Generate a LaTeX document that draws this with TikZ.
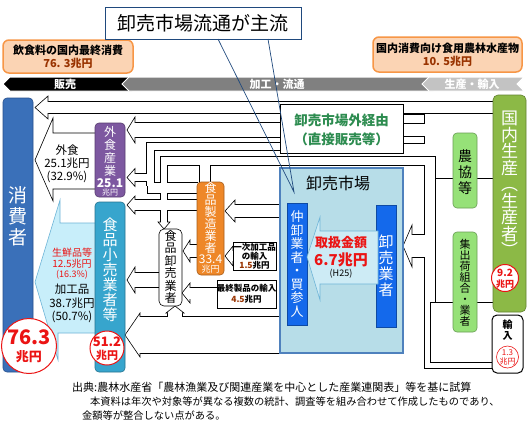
\documentclass[tikz,border=0pt]{standalone}
\usepackage{fontspec}
\setmainfont{Noto Sans CJK JP}
\usetikzlibrary{fit}
\definecolor{cCons}{RGB}{58,112,185}
\definecolor{cConsD}{RGB}{40,80,140}
\definecolor{cGai}{RGB}{125,88,160}
\definecolor{cKouri}{RGB}{55,165,205}
\definecolor{cSei}{RGB}{238,135,40}
\definecolor{cKoku}{RGB}{140,185,70}
\definecolor{cNou}{RGB}{150,225,120}
\definecolor{cMkt}{RGB}{183,221,232}
\definecolor{cMktB}{RGB}{79,129,189}
\definecolor{cBar}{RGB}{20,105,235}
\definecolor{cTori}{RGB}{205,235,245}
\definecolor{cKako}{RGB}{200,238,250}
\definecolor{cKakoB}{RGB}{110,180,215}
\definecolor{cOrF}{RGB}{251,212,180}
\definecolor{cOrB}{RGB}{247,150,70}
\definecolor{cGrn}{RGB}{45,140,80}
\definecolor{cRed}{RGB}{235,20,20}
\definecolor{cBrn}{RGB}{153,51,0}
\definecolor{cGray}{RGB}{128,128,128}
\definecolor{cLGray}{RGB}{195,195,195}
\definecolor{cCall}{RGB}{31,73,125}
\newcommand{\fz}[2]{\fontsize{#1}{#2}\selectfont}
\tikzset{
  outerpass/.style={pw/.style={line width=##1pt+1.2pt, draw=black}, ws/.style={}, we/.style={}},
  innerpass/.style={pw/.style={line width=##1pt, draw=white}, ws/.style={shorten <=0.6pt}, we/.style={shorten >=0.6pt}},
  headst/.style={fill=white, draw=black, line width=0.6pt},
  box/.style={inner sep=0pt, line width=0.6pt},
  vt/.style={align=center, inner sep=0pt},
  tx/.style={inner sep=0pt},
  infobox/.style={draw=cOrB, fill=cOrF, line width=1.5pt, rounded corners=6pt, align=center, inner sep=0pt, font=\bfseries\fz{11}{13}},
  bandtxt/.style={inner sep=0pt, font=\bfseries\fz{11}{11}, text=white},
  redcirc/.style={circle, draw=cRed, fill=white, inner sep=0pt},
}
\newcommand{\pipenet}{%
  \draw[pw=11] (46,107.5)--(494,107.5);
  \draw[pw=14] (133,130)--(281,130);
  \draw[pw=7] (281,146.5)--(150.5,146.5)--(150.5,186);
  \draw[pw=7] (151,177.5)--(134,177.5);
  \draw[pw=10,we] (198,188)--(147,188);
  \draw[pw=8,ws,we] (435.6,161)--(160,161);
  \draw[pw=6] (164,161)--(164,223);
  \draw[pw=10] (205,161)--(205,184);
  \draw[pw=10] (430,161)--(430,302.4);
  \draw[pw=5] (427.5,298)--(427.5,365.5)--(494,365.5);
  \draw[pw=51,we] (494,139)--(435.6,139);
  \draw[pw=109,we] (494,233)--(435.6,233);
  \draw[pw=59,we] (494,332.5)--(430.6,332.5);
  \draw[pw=22] (428,246)--(411,246);
  \draw[pw=8,we] (402,119)--(425,119);
  \draw[pw=6,we] (402,140)--(425,140);
  \draw[pw=36] (281,335)--(139,335);
  \draw[pw=14] (175,318)--(175,312);
  \draw[pw=11] (218,293)--(189,293);
  \draw[pw=10] (234,256)--(231,256);
  \draw[pw=12] (198,251)--(189,251);
  \draw[pw=12] (281,211)--(234,211);
  \draw[pw=14] (160,280)--(134,280);
  \draw[pw=10] (198,205)--(134,205);
}
\begin{document}
\begin{tikzpicture}[x=1pt,y=-1pt]
\useasboundingbox (0,0) rectangle (529,426);
\fill[white] (0,0) rectangle (529,426);

% stage bands
\filldraw[fill=black, draw=white, line width=1pt] (3,84)--(10,77)--(132,77)--(132,91)--(10,91)--cycle;
\filldraw[fill=cGray, draw=white, line width=1pt] (122,84)--(129,77)--(433,77)--(426,84)--(433,91)--(129,91)--cycle;
\filldraw[fill=cLGray, draw=white, line width=1pt] (422,84)--(429,77)--(524,77)--(517,84)--(524,91)--(429,91)--cycle;
\node[bandtxt] (bandA) at (65,84) {販売};
\node[bandtxt] (bandB) at (277,84) {加工・流通};
\node[bandtxt] (bandC) at (472,84) {生産・輸入};

% info boxes
\node[infobox, minimum width=130pt, minimum height=33pt] (ib1) at (68,56.5) {飲食料の国内最終消費\\{\color{cBrn}76. 3兆円}};
\node[infobox, minimum width=149pt, minimum height=35pt] (ib2) at (447.5,54.5) {国内消費向け食用農林水産物\\{\color{cBrn}10. 5兆円}};

% pipes, outer pass
\begin{scope}[outerpass]\pipenet\end{scope}
% arrow heads
\filldraw[headst] (48,96)--(35,107.5)--(48,119)--cycle;
\filldraw[headst] (135,117)--(127,130)--(135,143)--cycle;
\filldraw[headst] (412,225)--(403,246)--(412,267)--cycle;
\filldraw[headst] (135,168.5)--(127,177.5)--(135,186.5)--cycle;
\filldraw[headst] (140,313)--(125,335)--(140,357)--cycle;
\filldraw[headst] (166,313)--(175,306)--(184,313)--cycle;
\filldraw[headst] (190,283)--(182,293)--(190,303)--cycle;
\filldraw[headst] (233,246)--(225,256)--(233,266)--cycle;
\filldraw[headst] (190,240)--(183,251)--(190,262)--cycle;
\filldraw[headst] (235,200)--(225,211)--(235,222)--cycle;
\filldraw[headst] (135,267)--(127,280)--(135,293)--cycle;
\filldraw[headst] (135,196)--(127,205)--(135,214)--cycle;
\filldraw[headst] (158,222)--(164,229)--(170,222)--cycle;
% pipes, inner pass
\begin{scope}[innerpass]\pipenet\end{scope}

% big arrows into consumers
\filldraw[fill=white, draw=black, line width=0.6pt] (97,133)--(53,133)--(53,118)--(35,160)--(53,201)--(53,189)--(97,189)--cycle;
\filldraw[fill=cKako, draw=cKakoB, line width=0.6pt] (97,223)--(60,223)--(60,200)--(35,282)--(58,360)--(58,333)--(97,333)--cycle;

% consumers
\node[box, fit={(3,98)(33,372)}, fill=cCons, draw=cConsD, rounded corners=4pt] (cons) {};
\node[vt, text=white, font=\fz{19}{21}] (consT) at (18,216) {消\\費\\者};
\node[redcirc, line width=1pt, minimum size=55pt] (c763) at (29,346) {};
\node[tx, text=cRed, font=\bfseries\fz{20}{20}] (c763a) at (29,337) {76.3};
\node[tx, text=cRed, font=\bfseries\fz{13}{13}] (c763b) at (29,357) {兆円};

% gaishoku arrow text
\node[tx, font=\fz{11.5}{11.5}] (gsA) at (67,150) {外食};
\node[tx, font=\fz{11.5}{11.5}] (gsB) at (67,163) {25.1兆円};
\node[tx, font=\fz{11.5}{11.5}] (gsC) at (67,177) {(32.9\%)};
% kakohin arrow text
\node[tx, text=cRed, font=\fz{10}{10}] (kkA) at (72,253) {生鮮品等};
\node[tx, text=cRed, font=\fz{10}{10}] (kkB) at (72,264) {12.5兆円};
\node[tx, text=cRed, font=\fz{9}{9}] (kkC) at (72,275) {(16.3\%)};
\node[tx, font=\fz{11.5}{11.5}] (kkD) at (72,289) {加工品};
\node[tx, font=\fz{11.5}{11.5}] (kkE) at (72,303) {38.7兆円};
\node[tx, font=\fz{11.5}{11.5}] (kkF) at (72,317) {(50.7\%)};

% food service
\node[box, fit={(95,123)(125,197)}, fill=cGai, draw=cGai!70!black, rounded corners=4pt] (gai) {};
\node[vt, text=white, font=\fz{12}{13}] (gaiT) at (110,151) {外\\食\\産\\業};
\node[tx, text=white, font=\bfseries\fz{12}{12}] (gaiN) at (110,183) {25.1};
\node[tx, text=white, font=\fz{8}{8}] (gaiU) at (110,193) {兆円};
% retailers
\node[box, fit={(95,202)(125,372)}, fill=cKouri, draw=cKouri!70!black, rounded corners=4pt] (kouri) {};
\node[vt, text=white, font=\fz{15}{15}] (kouriT) at (110,270) {食\\品\\小\\売\\業\\者\\等};
\node[redcirc, line width=1pt, minimum size=34pt] (c512) at (107,348) {};
\node[tx, text=cRed, font=\bfseries\fz{13}{13}] (c512a) at (107,342) {51.2};
\node[tx, text=cRed, font=\bfseries\fz{11}{11}] (c512b) at (107,355) {兆円};

% manufacturers
\node[box, fit={(197,182)(224,275)}, fill=cSei, draw=cSei!70!black, rounded corners=4pt] (sei) {};
\node[vt, text=white, font=\fz{12}{12}] (seiT) at (210.5,218) {食\\品\\製\\造\\業\\者};
\node[tx, text=white, font=\fz{12}{12}] (seiN) at (210.5,259) {33.4};
\node[tx, text=white, font=\fz{9}{9}] (seiU) at (210.5,269) {兆円};
% food wholesalers
\node[box, fit={(159,229)(182,306)}, fill=white, draw=black, rounded corners=5pt] (orosi) {};
\node[vt, font=\fz{12}{12.5}] (orosiT) at (170.5,267) {食\\品\\卸\\売\\業\\者};
% imports
\node[box, fit={(233,242)(276,270)}, fill=white, draw=black] (imp1) {};
\node[vt, font=\bfseries\fz{8.5}{9}] (imp1T) at (254.5,256) {一次加工品\\の輸入\\{\color{cBrn}1.5}兆円};
\node[box, fit={(217,280)(276,308)}, fill=white, draw=black] (imp2) {};
\node[vt, font=\bfseries\fz{8.5}{11}] (imp2T) at (246.5,294) {最終製品の輸入\\{\color{cBrn}4.5}兆円};

% outside-market route
\node[box, fit={(280,104)(403,153)}, fill=white, draw=black] (gaikei) {};
\node[vt, text=cGrn, font=\bfseries\fz{13.5}{19}] (gaikeiT) at (341.5,130) {卸売市場外経由\\（直接販売等）};
% wholesale market
\node[box, fit={(280,168)(403,353)}, fill=cMkt, draw=cMktB, line width=1.2pt] (mkt) {};
\node[tx, font=\fz{16}{16}] (mktT) at (338,183) {卸売市場};
\node[box, fit={(287,203)(307,325)}, fill=cBar, draw=cBar!70!black] (naka) {};
\node[vt, text=white, font=\fz{13}{13.5}] (nakaT) at (297,264) {仲\\卸\\業\\者\\・\\買\\参\\人};
\node[box, fit={(376,205)(396,327)}, fill=cBar, draw=cBar!70!black] (orou) {};
\node[vt, text=white, font=\fz{15}{16}] (orouT) at (386,266) {卸\\売\\業\\者};
\filldraw[fill=cTori, draw=cKakoB, line width=0.6pt] (378,231)--(320,231)--(320,217)--(307,257)--(320,300)--(320,284)--(378,284)--cycle;
\node[tx, text=cRed, font=\bfseries\fz{13}{13}] (toriA) at (341,243) {取扱金額};
\node[tx, text=cRed, font=\bfseries\fz{15}{15}] (toriB) at (341,260) {6.7兆円};
\node[tx, font=\fz{9}{9}] (toriC) at (341,274) {(H25)};

% producers side
\node[box, fit={(453,133)(477,208)}, fill=cNou, draw=cNou!70!black, rounded corners=4pt] (nou) {};
\node[vt, font=\fz{14}{16}] (nouT) at (465,172) {農\\協\\等};
\node[box, fit={(453,232)(477,332)}, fill=cNou, draw=cNou!70!black, rounded corners=4pt] (shu) {};
\node[vt, font=\fz{11}{11}] (shuT) at (465,283) {集\\出\\荷\\組\\合\\・\\業\\者};
\node[box, fit={(493,95)(526,312)}, fill=cKoku, draw=cKoku!70!black, rounded corners=5pt] (koku) {};
\node[vt, text=white, font=\fz{17}{16.5}] (kokuT) at (509.5,184) {国\\内\\生\\産\\︵\\生\\産\\者\\︶};
\node[redcirc, line width=1pt, minimum size=27pt] (c92) at (505,278) {};
\node[tx, text=cRed, font=\bfseries\fz{10}{10}] (c92a) at (505,273) {9.2};
\node[tx, text=cRed, font=\bfseries\fz{9}{9}] (c92b) at (505,284) {兆円};
\node[box, fit={(492,315)(523,373)}, fill=white, draw=black, line width=1pt, rounded corners=5pt] (yunyu) {};
\node[vt, font=\bfseries\fz{10}{11}] (yunyuT) at (507.5,330) {輸\\入};
\node[redcirc, line width=0.6pt, minimum size=22pt] (c13) at (507.5,357) {};
\node[tx, text=cRed, font=\fz{8}{8}] (c13a) at (507.5,352.5) {1.3};
\node[tx, text=cRed, font=\fz{8}{8}] (c13b) at (507.5,362) {兆円};

% source note
\node[tx, anchor=west, font=\fz{11}{11}] (src1) at (72,387) {出典:農林水産省「農林漁業及び関連産業を中心とした産業連関表」等を基に試算};
\node[tx, anchor=west, font=\fz{10.25}{10.25}] (src2) at (90,402) {本資料は年次や対象等が異なる複数の統計、調査等を組み合わせて作成したものであり、};
\node[tx, anchor=west, font=\fz{10.25}{10.25}] (src3) at (82,416) {金額等が整合しない点がある。};

% callout
\node[box, draw=cCall, fill=white, minimum width=196pt, minimum height=32pt, font=\fz{19}{19}] (title) at (203,23) {卸売市場流通が主流};
\coordinate (callpt) at (294,192);
\draw[cCall, line width=0.7pt] (218,39) -- (callpt) -- (268,39);
\end{tikzpicture}
\end{document}
